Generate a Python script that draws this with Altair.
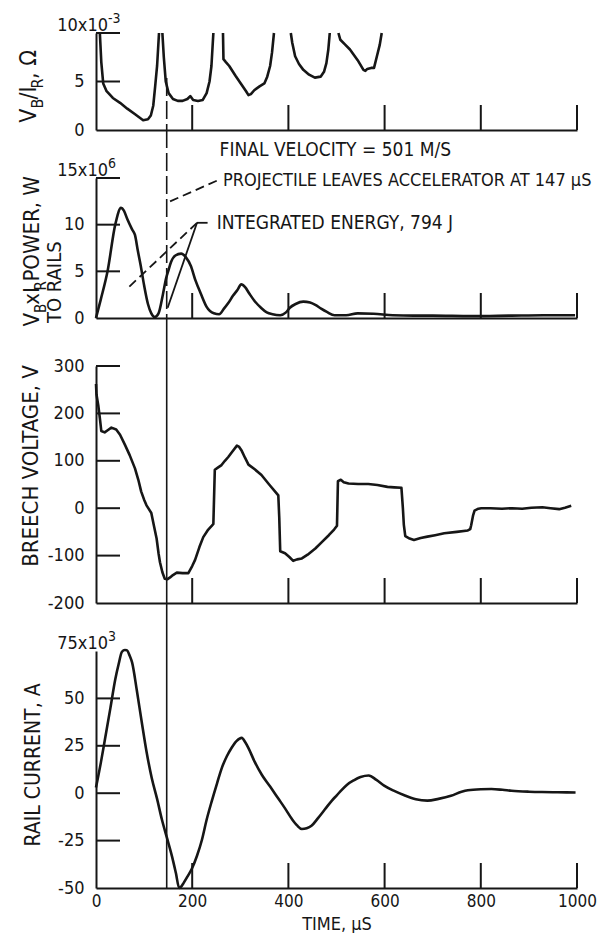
import altair as alt
import pandas as pd

FONT = "Liberation Sans Narrow, Arial Narrow, DejaVu Sans Condensed, sans-serif"
INK = "#161616"

# ---------------- data ----------------
time_ticks = [200, 400, 600, 800, 1000]
time_labels = [0, 200, 400, 600, 800, 1000]
exit_time = [147]

# V_B / I_R, units of 10^-3 ohm (five pieces that leave the top of the scale)
res_t1 = [8, 11, 15, 22, 35, 50, 65, 82, 98, 108, 114, 119, 123, 127, 131]
res_v1 = [10, 7, 4.8, 4.0, 3.3, 2.8, 2.2, 1.6, 1.0, 1.1, 1.5, 2.5, 4.5, 6.6, 10]
res_t2 = [138, 141, 145, 151, 160, 170, 180, 190, 196, 202, 212, 222, 230, 236, 240, 244]
res_v2 = [10, 7.5, 5.0, 3.8, 3.2, 3.0, 3.0, 3.2, 3.5, 3.1, 3.0, 3.1, 3.8, 5.0, 6.6, 10]
res_t3 = [264, 265, 270, 277, 290, 301, 312, 317, 322, 329, 340, 350, 356, 362, 366, 370]
res_v3 = [10, 7.3, 7.0, 6.6, 5.6, 4.8, 4.0, 3.6, 3.7, 4.1, 4.5, 4.8, 5.5, 6.6, 8.0, 10]
res_t4 = [405, 408, 414, 422, 431, 443, 455, 467, 474, 479, 483, 486]
res_v4 = [10, 9.0, 7.6, 6.8, 6.2, 5.7, 5.4, 5.5, 6.0, 6.9, 8.3, 10]
res_t5 = [504, 508, 518, 528, 544, 556, 560, 564, 572, 578, 584, 590, 594]
res_v5 = [10, 9.3, 8.8, 8.3, 7.2, 6.2, 6.1, 6.3, 6.4, 6.4, 7.6, 8.8, 10]

# V_B x I_R power to rails, units of 10^6 W
power_t = [0, 10, 24, 40, 52, 58, 65, 75, 81, 87, 93, 100, 108, 115, 122, 130, 139, 146,
           150, 156, 165, 177, 187, 197, 207, 218, 230, 245, 256, 266, 275, 285, 294, 302,
           310, 319, 330, 343, 355, 367, 383, 395, 403, 415, 431, 445, 456, 468, 480, 496,
           520, 544, 577, 617, 660, 700, 780, 860, 930, 996]
power_v = [0, 2, 5, 10, 11.8, 11.5, 10.6, 9.5, 8.9, 7.2, 5.6, 3.5, 1.5, 0.5, 0.1, 0.5, 2.5, 4.3,
           5.0, 6.0, 6.7, 6.9, 6.5, 5.6, 4.0, 2.6, 1.2, 0.5, 0.4, 1.0, 1.6, 2.4, 3.0, 3.6,
           3.3, 2.6, 1.8, 1.1, 0.6, 0.4, 0.3, 0.6, 1.1, 1.5, 1.75, 1.65, 1.4, 1.0, 0.65, 0.3,
           0.3, 0.5, 0.45, 0.3, 0.25, 0.25, 0.2, 0.25, 0.3, 0.3]

# breech voltage, V
volt_t = [0, 1, 5, 8, 11, 18, 25, 32, 42, 50, 60, 70, 81, 88, 94, 100, 105, 110, 115, 120,
          126, 130, 133, 138, 143, 148, 154, 160, 168, 180, 192, 200, 206, 215, 223, 232,
          240, 244, 247, 254, 261, 268, 275, 284, 293, 297, 303, 310, 317, 330, 344, 360,
          379, 381, 383, 393, 402, 410, 418, 428, 440, 456, 470, 484, 495, 501, 503, 509,
          515, 525, 545, 566, 585, 606, 620, 635, 638, 640, 643, 652, 661, 675, 689, 705,
          724, 750, 773, 778, 780, 784, 787, 795, 801, 820, 844, 865, 886, 905, 928, 945,
          963, 975, 988]
volt_v = [262, 240, 215, 190, 163, 160, 165, 170, 166, 155, 134, 112, 84, 60, 35, 18, 6, -2,
          -10, -35, -64, -95, -114, -135, -149, -150, -146, -141, -136, -137, -137, -122,
          -109, -82, -61, -47, -38, -33, 81, 86, 91, 100, 108, 120, 132, 130, 121, 106, 92,
          82, 70, 50, 27, -20, -91, -95, -103, -111, -108, -106, -98, -85, -71, -57, -45,
          -37, 57, 60, 55, 52, 51, 51, 49, 45, 44, 43, 0, -35, -59, -64, -67, -63, -60, -57,
          -53, -50, -47, -44, -36, -15, -5, -1, 0, 0, -1, 0, -1, 1, 2, 0, -2, 1, 5]

# rail current, units of 10^3 A
cur_t = [0, 10, 19, 30, 40, 47, 54, 60, 64, 70, 75, 85, 95, 105, 116, 127, 137, 148, 158,
         166, 173, 178, 182, 190, 199, 210, 220, 230, 241, 252, 262, 272, 282, 292, 303,
         310, 317, 330, 345, 362, 379, 393, 407, 418, 428, 438, 448, 462, 476, 490, 501,
         511, 522, 536, 550, 567, 583, 599, 620, 641, 665, 689, 712, 738, 760, 773, 800,
         822, 845, 864, 900, 927, 960, 997]
cur_v = [3, 16, 29, 45, 60, 68, 74.6, 75.5, 75.4, 72.5, 69, 54, 37.7, 22, 7.9, -3, -13.9,
         -24, -33.3, -42, -50, -49, -47.4, -44, -40, -33, -24.8, -14, -3.9, 5.5, 13.6, 19.5,
         24, 27.5, 29.2, 27, 23.8, 16.5, 9.6, 3.5, -2.8, -8, -13.5, -17, -18.9, -18.5, -17.2,
         -13, -8.5, -4, -1, 1.8, 4.5, 6.8, 8.5, 9.3, 7, 4.0, 1.2, -1.1, -3.2, -3.9, -3,
         -1.4, 0.8, 1.6, 2.1, 2.2, 1.8, 1.3, 0.8, 0.6, 0.5, 0.4]

res_labels = [0, 5, 10]
res_ticks = [5, 10]
pow_labels = [0, 5, 10, 15]
pow_ticks = [5, 10, 15]
volt_labels = [-200, -100, 0, 100, 200, 300]
volt_ticks = [-100, 0, 100, 200, 300]
cur_labels = [-50, -25, 0, 25, 50, 75]
cur_ticks = [-25, 0, 25, 50]

# leader lines in the power panel (time, power) -> (time2, power2)
lead_dash_t = [251, 210]
lead_dash_v = [14.7, 10.2]
lead_dash_t2 = [154, 66]
lead_dash_v2 = [12.5, 3.2]
lead_solid_t = [210, 210]
lead_solid_v = [10.2, 10.2]
lead_solid_t2 = [232, 149]
lead_solid_v2 = [10.2, 1.1]

note_final = ["FINAL VELOCITY = 501 M/S"]
note_final_t = [257]
note_exit = ["PROJECTILE LEAVES ACCELERATOR AT 147 µS"]
note_exit_t = [264]
note_exit_v = [14.7]
note_energy = ["INTEGRATED ENERGY, 794 J"]
note_energy_t = [251]
note_energy_v = [10.2]

# ---------------- layout ----------------
W = 481
H_RES, H_POW, H_VOLT, H_CUR = 97, 140, 237, 237
GAP = 48

XS = alt.Scale(domain=[0, 1000], nice=False, zero=False)


def one(s):
    return pd.DataFrame({"s": [s]})


def htext(s, x, y, size, align="left", baseline="alphabetic"):
    return alt.Chart(one(s)).mark_text(
        align=align, baseline=baseline, fontSize=size, font=FONT, color=INK
    ).encode(text="s:N", x=alt.value(x), y=alt.value(y))


def rtext(s, x, y, size, align="left"):
    return alt.Chart(one(s)).mark_text(
        angle=270, align=align, baseline="alphabetic", fontSize=size, font=FONT, color=INK
    ).encode(text="s:N", x=alt.value(x), y=alt.value(y))


def make_axes(top, ylabels, sup, bottom):
    if bottom:
        xaxis = alt.Axis(values=time_labels, labels=True, ticks=False, domain=True,
                         title="TIME, µS", labelFontSize=17, labelPadding=5,
                         titleFontSize=18, titlePadding=6, titleFontWeight="normal",
                         labelFlush=False, grid=False, labelExpr="'' + datum.value")
    else:
        xaxis = alt.Axis(labels=False, ticks=False, domain=True, title=None, grid=False)
    if sup is not None:
        expr = f"datum.value == {top} ? '' : '' + datum.value"
    else:
        expr = "'' + datum.value"
    yaxis = alt.Axis(values=ylabels, ticks=False, domain=True, title=None, grid=False,
                     labelPadding=12, labelFontSize=18, labelExpr=expr)
    return xaxis, yaxis


def panel(df, ydom, ylabels, yticks, h, interp, sup=None, bottom=False, seg=False,
          exit_top=-GAP, exit_dash=None, extra_fn=None):
    ys = alt.Scale(domain=ydom, nice=False, zero=False)
    xaxis, yaxis = make_axes(ydom[1], ylabels, sup, bottom)
    X = lambda f="t:Q": alt.X(f, scale=XS, axis=xaxis)
    Y = lambda f="v:Q": alt.Y(f, scale=ys, axis=yaxis)
    enc = dict(x=X(), y=Y())
    if seg:
        enc["detail"] = alt.Detail("seg:N")
    layers = [alt.Chart(df).mark_line(color=INK, strokeWidth=2.6, interpolate=interp,
                                      strokeJoin="round").encode(**enc)]
    # inward y ticks
    layers.append(alt.Chart(pd.DataFrame({"v": yticks})).mark_rule(color=INK, strokeWidth=2).encode(
        y=Y(), x=alt.value(0), x2=alt.value(24)))
    # upward x ticks
    layers.append(alt.Chart(pd.DataFrame({"t": time_ticks})).mark_rule(color=INK, strokeWidth=2).encode(
        x=X(), y=alt.value(h - 25), y2=alt.value(h)))
    # projectile exit line
    rk = dict(color=INK, strokeWidth=1.6)
    if exit_dash is not None:
        rk["strokeDash"] = exit_dash
    layers.append(alt.Chart(pd.DataFrame({"t": exit_time})).mark_rule(**rk).encode(
        x=X(), y=alt.value(exit_top), y2=alt.value(h)))
    if sup is not None:
        layers.append(htext(sup[0], 12, -2, 18, align="right"))
        layers.append(htext(sup[1], 12, -10, 14, align="left"))
    if extra_fn is not None:
        layers.extend(extra_fn(X, Y))
    return alt.layer(*layers).properties(width=W, height=h)


def seg_frame(parts):
    rows = []
    for i, (ts, vs) in enumerate(parts):
        for t, v in zip(ts, vs):
            rows.append({"seg": i, "t": t, "v": v})
    return pd.DataFrame(rows)


res_df = seg_frame([(res_t1, res_v1), (res_t2, res_v2), (res_t3, res_v3),
                    (res_t4, res_v4), (res_t5, res_v5)])
pow_df = pd.DataFrame({"t": power_t, "v": power_v})
volt_df = pd.DataFrame({"t": volt_t, "v": volt_v})
cur_df = pd.DataFrame({"t": cur_t, "v": cur_v})


# ---- panel 1 : V_B/I_R ----
def res_extra(X, Y):
    out = [
        rtext("V", -60, 75.5, 23, align="right"),
        rtext("B", -53, 75.5, 16),
        rtext("/I", -60, 66.5, 23),
        rtext("R", -53, 55.5, 16),
        rtext(", Ω", -60, 46, 23),
    ]
    out.append(alt.Chart(pd.DataFrame({"t": note_final_t, "s": note_final})).mark_text(
        align="left", baseline="middle", fontSize=19, font=FONT, color=INK
    ).encode(x=X(), y=alt.value(H_RES + 20), text="s:N"))
    return out


p1 = panel(res_df, [0, 10], res_labels, res_ticks, H_RES, "linear",
           sup=("10x10", "-3"), seg=True, exit_top=45, exit_dash=[18, 5],
           extra_fn=res_extra)


# ---- panel 2 : power ----
def pow_extra(X, Y):
    dash_df = pd.DataFrame({"t": lead_dash_t, "v": lead_dash_v, "t2": lead_dash_t2, "v2": lead_dash_v2})
    solid_df = pd.DataFrame({"t": lead_solid_t, "v": lead_solid_v, "t2": lead_solid_t2, "v2": lead_solid_v2})
    out = [
        alt.Chart(dash_df).mark_rule(color=INK, strokeWidth=1.8, strokeDash=[9, 5]).encode(
            x=X(), x2="t2:Q", y=Y(), y2="v2:Q"),
        alt.Chart(solid_df).mark_rule(color=INK, strokeWidth=1.8).encode(
            x=X(), x2="t2:Q", y=Y(), y2="v2:Q"),
        alt.Chart(pd.DataFrame({"t": note_exit_t, "v": note_exit_v, "s": note_exit})).mark_text(
            align="left", baseline="middle", fontSize=18, font=FONT, color=INK
        ).encode(x=X(), y=Y(), text="s:N"),
        alt.Chart(pd.DataFrame({"t": note_energy_t, "v": note_energy_v, "s": note_energy})).mark_text(
            align="left", baseline="middle", fontSize=19, font=FONT, color=INK
        ).encode(x=X(), y=Y(), text="s:N"),
        rtext("V", -57, 135, 22, align="right"),
        rtext("B", -50, 135, 15),
        rtext("xI", -57, 126.8, 22),
        rtext("R", -50, 112.5, 15),
        rtext(" POWER, W", -57, 103.6, 22),
        rtext("TO RAILS", -35, 145, 20),
    ]
    return out


p2 = panel(pow_df, [0, 15], pow_labels, pow_ticks, H_POW, "monotone",
           sup=("15x10", "6"), exit_dash=[18, 5], extra_fn=pow_extra)

# ---- panel 3 : breech voltage ----
p3 = panel(volt_df, [-200, 300], volt_labels, volt_ticks, H_VOLT, "linear",
           extra_fn=lambda X, Y: [rtext("BREECH VOLTAGE, V", -58, 100, 22, align="center")])

# ---- panel 4 : rail current ----
p4 = panel(cur_df, [-50, 75], cur_labels, cur_ticks, H_CUR, "monotone",
           sup=("75x10", "3"), bottom=True,
           extra_fn=lambda X, Y: [rtext("RAIL CURRENT, A", -56, 114, 21, align="center")])

chart = alt.vconcat(p1, p2, p3, p4, spacing=GAP, bounds="flush").properties(
    padding={"left": 10, "top": 4, "right": 0, "bottom": 0}
).configure_view(stroke=None).configure_axis(
    grid=False, domainColor=INK, domainWidth=2, labelColor=INK, titleColor=INK,
    labelFont=FONT, titleFont=FONT
)

chart.save("out.html", embed_options={"renderer": "svg", "actions": False})
